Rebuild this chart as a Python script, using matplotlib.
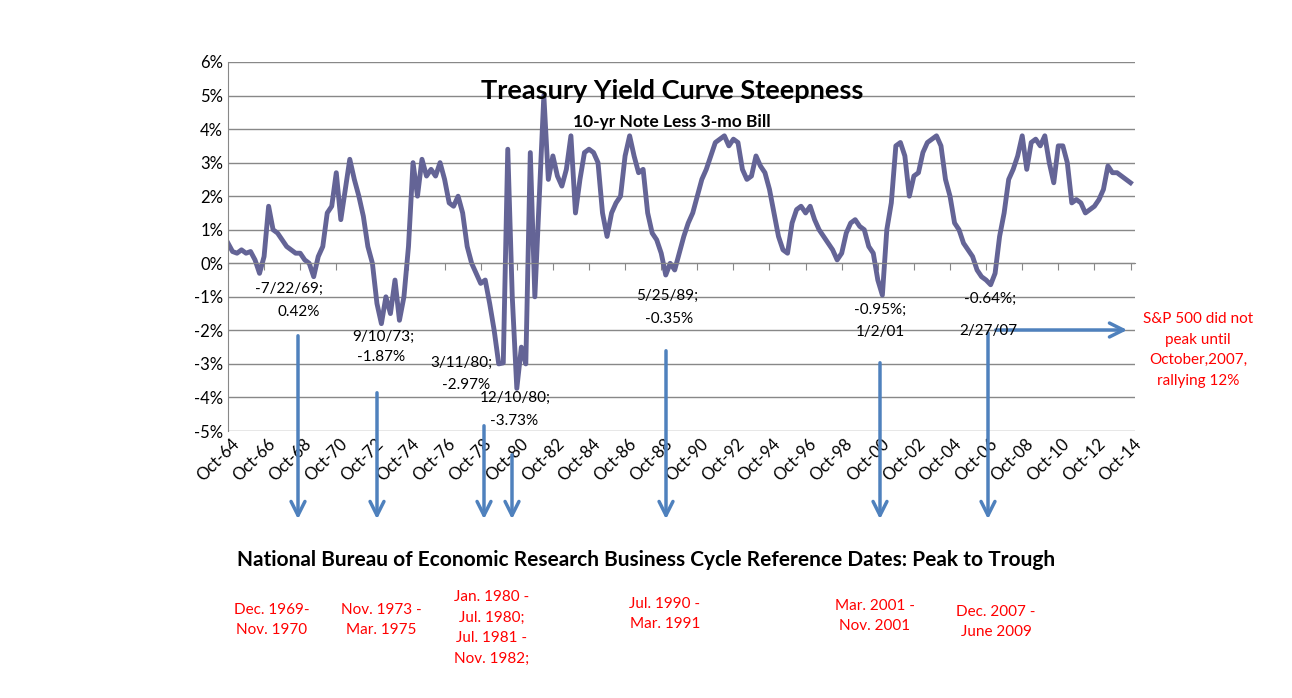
import matplotlib.pyplot as plt
import matplotlib.dates as mdates
import pandas as pd
import numpy as np

plt.rcParams['font.family'] = ['Lato', 'DejaVu Sans']

# quarterly readings, starting Oct-64 (10-yr note less 3-mo bill, %)
spread = [0.6,
          0.35, 0.3, 0.4, 0.3,   0.35, 0.1, -0.3, 0.2,   1.7, 1.0, 0.9, 0.7,
          0.5, 0.4, 0.3, 0.3,    0.1, 0.0, -0.4, 0.2,    0.5, 1.5, 1.7, 2.7,
          1.3, 2.2, 3.1, 2.5,    2.0, 1.4, 0.5, 0.0,     -1.2, -1.8, -1.0, -1.5,
          -0.5, -1.7, -1.0, 0.5, 3.0, 2.0, 3.1, 2.6,     2.8, 2.6, 3.0, 2.5,
          1.8, 1.7, 2.0, 1.5,    0.5, 0.0, -0.3, -0.6,   -0.5, -1.2, -2.0, -3.0,
          -2.97, 3.4, -1.0, -3.73, -2.5, -3.0, 3.3, -1.0, 2.0, 5.0, 2.5, 3.2,
          2.6, 2.3, 2.8, 3.8,    1.5, 2.5, 3.3, 3.4,     3.3, 3.0, 1.5, 0.8,
          1.5, 1.8, 2.0, 3.2,    3.8, 3.2, 2.7, 2.8,     1.5, 0.9, 0.7, 0.3,
          -0.35, 0.0, -0.2, 0.3, 0.8, 1.2, 1.5, 2.0,     2.5, 2.8, 3.2, 3.6,
          3.7, 3.8, 3.5, 3.7,    3.6, 2.8, 2.5, 2.6,     3.2, 2.9, 2.7, 2.2,
          1.5, 0.8, 0.4, 0.3,    1.2, 1.6, 1.7, 1.5,     1.7, 1.3, 1.0, 0.8,
          0.6, 0.4, 0.1, 0.3,    0.9, 1.2, 1.3, 1.1,     1.0, 0.5, 0.3, -0.5,
          -0.95, 1.0, 1.8, 3.5,  3.6, 3.2, 2.0, 2.6,     2.7, 3.3, 3.6, 3.7,
          3.8, 3.5, 2.5, 2.0,    1.2, 1.0, 0.6, 0.4,     0.2, -0.2, -0.4, -0.5,
          -0.64, -0.3, 0.8, 1.5, 2.5, 2.8, 3.2, 3.8,     2.8, 3.6, 3.7, 3.5,
          3.8, 3.0, 2.4, 3.5,    3.5, 3.0, 1.8, 1.9,     1.8, 1.5, 1.6, 1.7,
          1.9, 2.2, 2.9, 2.7,    2.7, 2.6, 2.5, 2.4]
dates = pd.date_range('1964-10-01', periods=len(spread), freq='3MS')
tick_years = list(range(1964, 2015, 2))

callouts = [('-7/22/69;', 289, 289), ('0.42%', 299, 312),
            ('9/10/73;', 383, 337), ('-1.87%', 381, 357),
            ('3/11/80;', 461, 363), ('-2.97%', 466, 385),
            ('12/10/80;', 515, 398), ('-3.73%', 514, 421),
            ('5/25/89;', 667, 296), ('-0.35%', 669, 319),
            ('-0.95%;', 880, 310), ('1/2/01', 880, 332),
            ('-0.64%;', 990, 299), ('2/27/07', 988, 331)]
recessions = [('Dec. 1969-\nNov. 1970', 272, 620), ('Nov. 1973 -\nMar. 1975', 381, 620),
              ('Jan. 1980 -\nJul. 1980;\nJul. 1981 -\nNov. 1982;', 492, 628),
              ('Jul. 1990 -\nMar. 1991', 665, 614), ('Mar. 2001 -\nNov. 2001', 875, 616),
              ('Dec. 2007 -\nJune 2009', 996, 622)]
arrows = [(298, 333), (377, 390), (484, 423), (512, 452), (666, 348), (880, 360), (988, 330)]

W, H = 1292, 698
fig = plt.figure(figsize=(W / 100, H / 100), dpi=100)
ax = fig.add_axes([228 / W, (H - 431) / H, 907 / W, 369 / H])
ax.plot(dates, np.array(spread) / 100, color='#646496', lw=3.5)

ax.set_ylim(-0.05, 0.06)
ax.set_xlim(pd.Timestamp('1964-10-01'), pd.Timestamp('2014-12-31'))
ax.set_yticks(np.arange(-0.05, 0.061, 0.01))
ax.set_yticklabels([f'{v}%' for v in range(-5, 7)], fontsize=12)
ax.yaxis.grid(True, color='#888888', lw=1)
ax.set_axisbelow(True)
for s in ['top', 'right']:
    ax.spines[s].set_visible(False)
ax.spines['left'].set_color('#888888')
ax.spines['bottom'].set_position(('data', 0))
ax.spines['bottom'].set_color('#888888')
ticks = [pd.Timestamp(f'{y}-10-01') for y in tick_years]
ax.set_xticks(ticks)
ax.set_xticklabels([])
ax.tick_params(axis='x', direction='out', length=5, color='#888888')
ax.tick_params(axis='y', length=0)
for t, y in zip(ticks, tick_years):
    ax.text(mdates.date2num(t) + 60, -0.0515, f'Oct-{y % 100:02d}', rotation=45,
            ha='right', va='top', fontsize=12, rotation_mode='anchor')

fig.text(672 / W, 1 - 91 / H, 'Treasury Yield Curve Steepness', ha='center', va='center',
         fontsize=19.5, fontweight='bold')
fig.text(672 / W, 1 - 122 / H, '10-yr Note Less 3-mo Bill', ha='center', va='center',
         fontsize=12.5, fontweight='bold')
fig.text(646 / W, 1 - 560 / H,
         'National Bureau of Economic Research Business Cycle Reference Dates: Peak to Trough',
         ha='center', va='center', fontsize=15, fontweight='bold')
for txt, x, y in callouts:
    fig.text(x / W, 1 - y / H, txt, ha='center', va='center', fontsize=11)
for txt, x, y in recessions:
    fig.text(x / W, 1 - y / H, txt, ha='center', va='center', fontsize=11,
             color='red', linespacing=1.6)
fig.text(1198 / W, 1 - 350 / H, 'S&P 500 did not\npeak until\nOctober,2007,\nrallying 12%',
         ha='center', va='center', fontsize=11, color='red', linespacing=1.6)

blue = '#4F81BD'
for x, y in arrows:
    ax.annotate('', xy=(x, H - 522), xytext=(x, H - y), xycoords='figure pixels',
                textcoords='figure pixels',
                arrowprops=dict(arrowstyle='->', color=blue, lw=2.5, mutation_scale=25))
ax.annotate('', xy=(1130, H - 330), xytext=(993, H - 330), xycoords='figure pixels',
            textcoords='figure pixels',
            arrowprops=dict(arrowstyle='->', color=blue, lw=2.5, mutation_scale=25))

fig.savefig('out.png', dpi=100)
